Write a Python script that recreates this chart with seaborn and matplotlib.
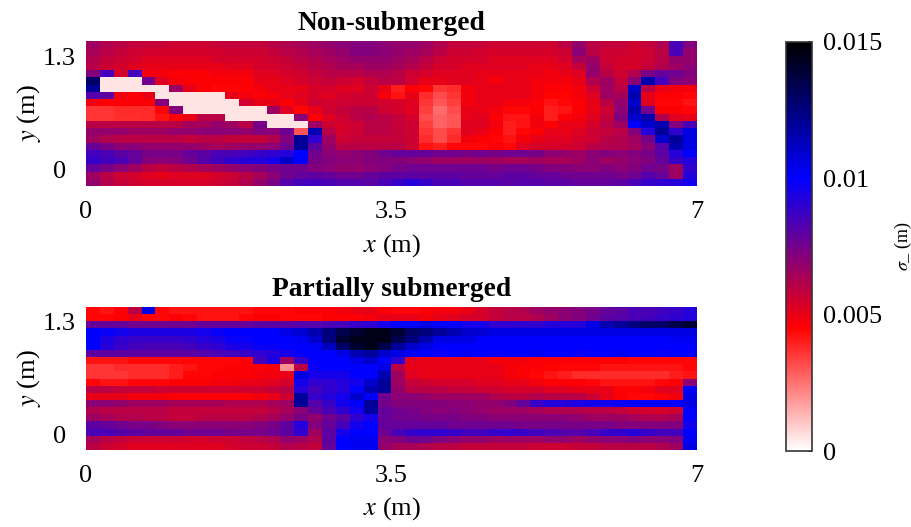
'''
Standard deviation maps for the non-submerged and partially submerged cases.
Values are read off the picture, in units of 1e-4 m.
'''

import numpy as np
import pandas as pd
import seaborn as sns
import matplotlib.pyplot as plt
from matplotlib.colors import LinearSegmentedColormap

titles = ['Non-submerged', 'Partially submerged']
x_tick_labels = ['0', '3.5', '7']
y_tick_labels = ['1.3', '0']
cbar_tick_values = [0, 0.005, 0.01, 0.015]
cbar_tick_labels = ['0', '0.005', '0.01', '0.015']

non_submerged = [
    [66,62,60,58,57,57,56,56,56,57,58,  58,58,60,62,64,66,68,70,72,72,70,  68,68,66,62,58,58,57,56,56,56,56,  56,60,68,60,58,58,56,58,62,84,72],
    [64,60,58,56,55,54,54,54,54,55,56,  56,56,58,60,62,64,66,68,72,72,70,  68,66,64,60,56,56,55,54,54,54,54,  54,56,70,60,56,56,55,56,60,84,68],
    [62,58,56,54,52,52,52,52,52,54,54,  54,55,56,58,60,62,64,66,68,68,68,  66,64,60,56,54,54,54,52,52,52,52,  52,54,64,66,56,54,54,56,60,68,68],
    [60,56,54,52,50,50,50,50,50,50,52,  52,54,55,56,58,60,62,64,64,66,66,  64,62,58,54,54,52,52,52,52,52,50,  50,52,58,68,58,54,54,58,62,66,70],
    [72,85,55,85,48,48,46,46,46,48,48,  48,52,52,54,56,58,60,60,60,62,62,  60,56,54,52,52,52,50,50,50,50,50,  48,50,52,68,60,56,62,74,78,76,72],
    [130,5,5,5,75,52,48,46,46,46,46,  46,50,50,52,54,56,58,56,54,58,60,  60,55,50,50,52,52,50,48,50,50,48,  47,48,50,62,66,58,70,115,85,72,70],
    [120,5,5,5,5,5,66,50,46,44,44,  46,48,50,50,50,54,54,52,52,56,50,  40,46,44,36,38,48,50,50,50,50,48,  46,46,48,56,66,60,110,60,50,48,48],
    [82,80,48,46,50,5,5,5,5,5,50,  48,46,48,50,52,54,52,54,56,56,48,  42,50,38,32,36,48,50,50,50,50,48,  45,45,48,52,66,65,115,50,46,46,44],
    [48,46,46,46,46,72,5,5,5,5,5,  55,50,50,46,50,56,55,56,56,56,55,  54,52,36,30,34,48,50,50,48,48,46,  42,44,46,50,60,68,110,52,44,44,42],
    [36,36,38,38,38,45,72,5,5,5,5,  5,5,66,52,44,50,56,58,60,60,56,  54,52,34,26,32,50,50,48,44,44,46,  40,42,46,50,56,70,115,76,46,46,44],
    [36,36,37,37,38,42,46,50,60,60,5,  5,5,5,5,70,46,52,56,60,62,60,  58,54,32,28,30,50,52,46,42,42,48,  40,46,48,52,58,72,110,115,62,52,50],
    [60,60,60,60,60,60,60,65,65,68,66,  60,74,5,5,5,66,56,54,56,60,60,  58,56,34,28,30,52,52,48,40,42,48,  46,50,50,54,60,66,100,110,115,72,84],
    [68,68,68,66,66,66,68,68,70,70,70,  68,72,70,76,30,115,60,54,56,60,60,  58,56,36,32,36,52,50,46,40,44,46,  50,50,52,56,58,60,72,92,120,90,105],
    [66,62,60,60,60,60,60,58,60,60,58,  58,58,62,72,120,90,66,56,58,58,58,  58,56,38,32,38,48,46,44,42,48,50,  52,52,54,56,60,62,66,74,110,120,105],
    [78,74,70,70,68,68,68,68,66,64,66,  68,68,70,76,120,80,68,60,60,60,60,  60,56,42,40,44,44,44,46,44,52,54,  54,54,56,60,62,62,64,70,82,115,105],
    [86,84,80,78,74,74,74,78,80,84,84,  86,88,90,92,100,76,70,68,70,72,76,  78,78,78,76,76,74,76,74,76,76,74,  70,68,66,70,72,70,72,74,80,92,100],
    [88,86,84,78,72,70,72,76,82,86,90,  92,92,95,110,100,74,72,70,70,72,72,  72,70,68,66,66,66,66,66,64,64,66,  64,64,66,70,66,68,70,72,78,88,92],
    [78,74,70,66,60,58,60,62,64,66,68,  70,72,74,76,76,72,70,68,68,70,72,  74,76,76,76,76,76,76,74,76,76,74,  72,72,70,70,72,70,72,76,74,66,90],
    [66,60,56,54,52,50,52,52,52,54,56,  60,64,70,76,78,80,78,76,76,78,80,  80,80,80,80,80,78,78,78,80,80,78,  78,76,76,76,76,74,76,82,78,66,92],
    [68,62,58,56,54,54,54,54,54,56,58,  62,68,74,82,86,86,84,82,82,80,84,  88,92,88,84,84,82,82,82,80,82,82,  80,80,78,78,78,80,84,88,90,92,96],
]

partially_submerged = [
    [44,42,46,60,105,44,42,42,42,42,42,  42,44,44,44,46,46,46,48,50,50,46,  44,44,46,48,48,50,54,58,60,62,66,  68,70,72,74,78,80,84,84,86,88,92],
    [44,44,46,50,44,44,46,44,42,42,42,  44,46,46,44,44,44,46,46,46,48,50,  50,50,48,50,52,54,54,58,60,60,62,  66,70,72,76,80,82,84,86,88,90,92],
    [78,78,78,76,76,76,76,76,78,78,78,  78,80,80,80,82,82,84,85,88,90,95,  100,100,105,100,100,95,95,90,90,90,90,  92,92,92,105,115,120,125,130,130,135,140],
    [100,98,96,94,94,94,94,94,96,98,100,  100,100,100,105,108,115,125,135,140,145,145,  140,130,125,120,115,110,108,105,105,105,105,  105,105,105,105,105,105,105,105,105,105,105],
    [100,94,90,88,88,88,88,90,92,94,98,  98,100,100,100,102,110,125,140,145,145,145,  135,125,115,105,105,105,100,100,100,100,100,  100,100,100,100,100,100,100,100,100,102,102],
    [100,92,88,86,84,84,84,86,88,90,94,  95,98,98,100,100,102,112,130,140,145,135,  120,110,105,100,100,100,100,100,100,100,100,  100,100,100,100,100,100,100,100,100,100,100],
    [80,80,80,80,80,80,80,80,82,84,86,  88,90,92,95,100,100,100,105,115,120,110,  105,102,100,98,100,102,100,98,100,100,102,  100,100,98,100,100,102,100,100,98,100,100],
    [42,42,42,44,44,44,44,44,44,44,44,  46,86,94,66,88,100,100,100,105,110,100,  90,52,50,50,50,50,50,48,48,48,46,  46,46,46,46,46,46,44,44,44,44,44],
    [36,36,38,38,38,38,40,42,44,44,46,  46,46,48,20,60,98,100,100,100,100,105,  60,50,50,50,50,50,50,50,48,46,46,  45,44,44,44,42,42,42,42,42,42,44],
    [36,36,36,38,38,38,40,44,44,46,46,  46,48,48,50,105,95,95,95,100,100,115,  66,52,50,50,50,50,50,50,48,46,44,  42,40,38,38,38,38,38,38,38,40,42],
    [44,42,42,44,44,44,46,46,46,48,48,  50,50,52,54,96,90,90,92,96,110,120,  66,58,56,54,54,54,52,52,50,50,48,  46,46,46,44,42,42,42,42,44,46,70],
    [60,60,58,58,58,56,56,56,56,56,56,  56,56,58,60,92,86,90,92,100,115,120,  68,60,60,60,58,58,56,56,54,54,54,  52,52,50,50,50,46,46,48,52,52,100],
    [50,50,50,48,48,48,46,46,46,46,46,  46,48,50,56,120,88,92,96,110,100,76,  70,70,68,66,66,66,66,62,60,60,62,  60,60,60,56,50,46,44,44,46,48,105],
    [70,70,68,66,66,66,64,64,64,64,62,  62,62,64,66,120,82,88,96,100,120,75,  72,72,72,72,70,70,68,68,72,78,88,  92,92,94,96,96,98,100,100,100,100,105],
    [62,60,60,60,60,60,58,58,58,58,58,  58,58,60,64,70,78,84,90,96,118,78,  76,74,72,70,72,70,68,66,66,66,64,  62,62,62,60,60,58,56,54,54,56,100],
    [66,64,62,62,60,60,58,58,60,60,60,  60,62,64,68,74,68,76,80,90,95,78,  76,76,74,74,74,72,72,70,70,70,70,  70,70,68,66,66,66,64,62,62,64,100],
    [80,78,76,74,74,72,70,70,70,70,70,  70,72,74,80,92,72,78,85,96,100,78,  78,78,78,78,76,76,76,76,76,74,74,  74,74,74,74,74,72,72,72,72,72,96],
    [84,84,82,80,78,78,78,76,76,76,74,  74,74,76,80,90,66,80,95,100,100,76,  84,88,90,90,88,86,86,88,90,88,86,  84,82,82,84,88,90,92,88,86,86,100],
    [64,60,58,56,56,56,56,54,54,56,56,  58,60,62,68,66,62,80,100,102,102,70,  72,76,76,72,70,68,68,66,66,66,66,  68,68,66,68,70,70,72,70,70,72,102],
    [60,56,54,52,52,52,52,52,52,52,54,  56,56,58,62,60,58,78,100,102,102,68,  64,64,62,60,60,58,58,58,58,58,56,  56,56,58,58,60,60,60,60,62,66,105],
]

FONT_SIZE = 19
TITLE_SIZE = 19.8
WIDTH, HEIGHT = 912, 527

sns.set_theme(style='white')
plt.rcParams['font.family'] = ['Liberation Serif', 'DejaVu Serif']
plt.rcParams['mathtext.fontset'] = 'stix'
plt.rcParams['text.color'] = 'black'
plt.rcParams['axes.labelcolor'] = 'black'
plt.rcParams['xtick.labelcolor'] = 'black'
plt.rcParams['ytick.labelcolor'] = 'black'

cmap = LinearSegmentedColormap.from_list(
    'sigma', [(0, 'white'), (0.3, '#ff0000'), (0.667, '#0000ff'), (1, 'black')])


def pixel_axes(fig, left, top, right, bottom):
    '''Add axes from pixel edges measured on the picture.'''
    return fig.add_axes([left / WIDTH, 1 - bottom / HEIGHT,
                         (right - left) / WIDTH, (bottom - top) / HEIGHT])


def draw_panel(ax, rows, title, y_ticks):
    '''Draw one sigma map with its labels.'''
    df = pd.DataFrame(np.array(rows) * 1e-4)
    sns.heatmap(df, ax=ax, vmin=0, vmax=0.015, cmap=cmap, cbar=False,
                xticklabels=False, yticklabels=False)
    ax.set_xticks([0, df.shape[1] / 2, df.shape[1]])
    ax.set_xticklabels(x_tick_labels, fontsize=FONT_SIZE)
    ax.set_yticks(y_ticks)
    ax.set_yticklabels(y_tick_labels, fontsize=FONT_SIZE, rotation=0, ha='center', va='center')
    ax.tick_params(axis='x', length=0, pad=11)
    ax.tick_params(axis='y', length=0, pad=19)
    ax.set_xlabel(r'$x$ (m)', fontsize=FONT_SIZE)
    ax.set_ylabel(r'$y$ (m)', fontsize=FONT_SIZE)
    ax.xaxis.set_label_coords(0.5, -0.41)
    ax.yaxis.set_label_coords(-0.094, 0.5)
    ax.xaxis.label.set_va('center')
    ax.yaxis.label.set_va('center')
    ax.set_title(title, fontsize=TITLE_SIZE, fontweight='bold', pad=8)


fig = plt.figure(figsize=(WIDTH / 100, HEIGHT / 100), dpi=100)
ax_top = pixel_axes(fig, 86, 41, 697, 186)
ax_bottom = pixel_axes(fig, 86, 307, 697, 450)
cax = pixel_axes(fig, 786, 42, 812, 451)

draw_panel(ax_top, non_submerged, titles[0], [2.5, 18.1])
draw_panel(ax_bottom, partially_submerged, titles[1], [2.4, 18.2])

sm = plt.cm.ScalarMappable(cmap=cmap, norm=plt.Normalize(0, 0.015))
cbar = fig.colorbar(sm, cax=cax)
cbar.set_ticks(cbar_tick_values)
cbar.set_ticklabels(cbar_tick_labels, fontsize=FONT_SIZE)
cbar.ax.tick_params(length=3, direction='in', color='#333333', pad=8)
cbar.outline.set_edgecolor('#333333')
cbar.outline.set_linewidth(1.2)
cbar.set_label(r'$\sigma$_ (m)', fontsize=13, va='center')
cbar.ax.yaxis.set_label_coords(4.5, 0.5)

fig.savefig('out.png', dpi=100)
